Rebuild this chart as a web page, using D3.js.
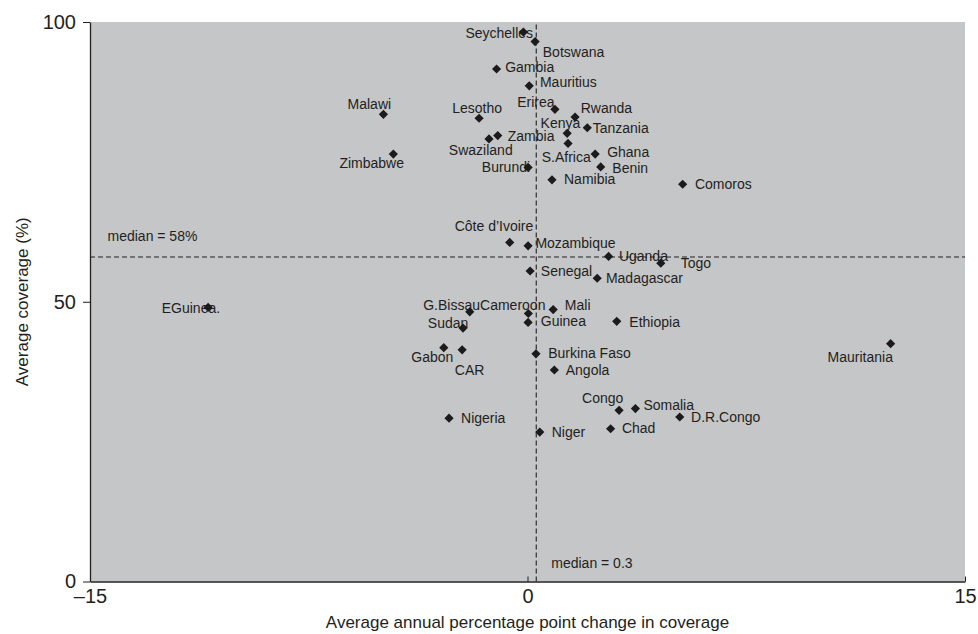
<!DOCTYPE html>
<html>
<head>
<meta charset="utf-8">
<script src="https://cdn.jsdelivr.net/npm/d3@7/dist/d3.min.js"></script>
<style>
  html, body { margin: 0; padding: 0; background: #ffffff; }
  svg { display: block; }
  text { font-family: "Liberation Sans", Arial, Helvetica, sans-serif; fill: #231f20; }
</style>
</head>
<body>
<svg id="chart" width="978" height="634"></svg>
<script>
// Country names, average annual change in coverage (percentage points), average coverage (%)
const countries = [
  "Seychelles", "Botswana", "Gambia", "Mauritius", "Malawi", "Lesotho", "Erirea",
  "Rwanda", "Tanzania", "Kenya", "S.Africa", "Zambia", "Swaziland", "Zimbabwe",
  "Ghana", "Benin", "Burundi", "Namibia", "Comoros", "Côte d’Ivoire", "Mozambique",
  "Uganda", "Togo", "Senegal", "Madagascar", "G.Bissau", "Cameroon", "Mali",
  "Guinea", "Ethiopia", "Sudan", "Gabon", "CAR", "Burkina Faso", "Angola",
  "Congo", "Somalia", "Nigeria", "Chad", "Niger", "D.R.Congo", "Mauritania", "EGuinea."
];
const change = [
  -0.14, 0.26, -1.06, 0.06, -4.94, -1.66, 0.94,
  1.63, 2.05, 1.36, 1.39, -1.02, -1.32, -4.6,
  2.32, 2.51, 0.02, 0.84, 5.32, -0.61, 0.02,
  2.78, 4.57, 0.09, 2.39, -1.98, 0.03, 0.88,
  0.02, 3.06, -2.21, -2.87, -2.24, 0.29, 0.92,
  3.14, 3.70, -2.69, 2.85, 0.42, 5.22, 12.45, -10.95
];
const coverage = [
  98.2, 96.5, 91.6, 88.6, 83.5, 82.8, 84.4,
  83.0, 81.1, 80.1, 78.3, 79.7, 79.1, 76.4,
  76.4, 74.1, 74.0, 71.8, 71.0, 60.6, 60.0,
  58.1, 56.9, 55.5, 54.2, 48.2, 47.9, 48.6,
  46.3, 46.5, 45.3, 41.8, 41.4, 40.7, 37.8,
  30.6, 30.9, 29.2, 27.3, 26.7, 29.4, 42.5, 49.0
];
const medianChange = 0.3;
const medianCoverage = 58;
const xTicks = [-15, 0, 15];
const yTicks = [0, 50, 100];
const xTickLabels = ["\u201315", "0", "15"];
const yTickLabels = ["0", "50", "100"];
const xTitle = "Average annual percentage point change in coverage";
const yTitle = "Average coverage (%)";

// Label placement next to each marker: [dx, dy, anchor]
const labelPlacement = [
  [9.7, 5.7, "end"], [7.7, 15, "start"], [8.6, 2.7, "start"], [10.7, 1, "start"],
  [7.7, -5.3, "end"], [23, -5, "end"], [-37.7, -2, "start"],
  [5.7, -3.7, "start"], [5.4, 5, "start"], [-26.6, -5, "start"], [-26.3, 18.4, "start"],
  [10, 5, "start"], [23.7, 16.3, "end"], [10.7, 14, "end"],
  [12, 3, "start"], [11.6, 6.5, "start"], [2, 4.4, "end"], [12, 4.6, "start"],
  [12.3, 4.3, "start"], [23.6, -11.6, "end"], [7.3, 1.7, "start"],
  [10.3, 5, "start"], [20, 5, "start"], [10.7, 5.3, "start"], [8.7, 4.4, "start"],
  [10.3, -1.7, "end"], [-48.3, -3.3, "start"], [11.7, 0.7, "start"],
  [12.7, 4, "start"], [12.6, 5.4, "start"], [5.3, 0, "end"], [9.6, 14.6, "end"],
  [-7.3, 25.3, "start"], [12.3, 4.3, "start"], [11.4, 5, "start"],
  [4.3, -7, "end"], [8, 1.3, "start"], [12, 5, "start"], [11.3, 4.6, "start"],
  [12, 4.7, "start"], [11.3, 4.7, "start"], [2.3, 18, "end"], [12, 6, "end"]
];

const svg = d3.select("#chart");
const plot = { left: 90, right: 965, top: 22, bottom: 581.5 };

const x = d3.scaleLinear().domain([-15, 15]).range([plot.left, plot.right]);
const y = d3.scaleLinear().domain([0, 100]).range([plot.bottom, plot.top]);

// Plot background
svg.append("rect")
  .attr("x", plot.left).attr("y", plot.top)
  .attr("width", plot.right - plot.left).attr("height", plot.bottom - plot.top)
  .attr("fill", "#c5c6c8");

// Median reference lines
svg.append("line")
  .attr("x1", x(-15)).attr("x2", x(15))
  .attr("y1", y(medianCoverage)).attr("y2", y(medianCoverage))
  .attr("stroke", "#231f20").attr("stroke-width", 1.1).attr("stroke-dasharray", "5,3");
svg.append("line")
  .attr("x1", x(medianChange)).attr("x2", x(medianChange))
  .attr("y1", y(0)).attr("y2", y(100))
  .attr("stroke", "#231f20").attr("stroke-width", 1.1).attr("stroke-dasharray", "5,3");

svg.append("text").attr("x", 107.5).attr("y", 240.5)
  .attr("font-size", 14).text("median = " + medianCoverage + "%");
svg.append("text").attr("x", x(medianChange) + 15).attr("y", 567.5)
  .attr("font-size", 14).text("median = " + medianChange);

// Axes
const xAxis = d3.axisBottom(x).tickValues(xTicks)
  .tickFormat((d, i) => xTickLabels[i]).tickSizeInner(-5).tickSizeOuter(0).tickPadding(10);
const gx = svg.append("g").attr("transform", `translate(0,${plot.bottom})`).call(xAxis);
gx.select(".domain").attr("stroke", "#231f20").attr("stroke-width", 1.3);
gx.selectAll(".tick line").attr("stroke", "#231f20");
gx.selectAll(".tick text").attr("font-size", 20).attr("fill", "#231f20")
  .attr("font-family", "Liberation Sans, Arial, sans-serif").attr("dy", "0.71em")
  .attr("y", 7);

const yAxis = d3.axisLeft(y).tickValues(yTicks)
  .tickFormat((d, i) => yTickLabels[i]).tickSizeInner(7).tickSizeOuter(0).tickPadding(7);
const gy = svg.append("g").attr("transform", `translate(${plot.left},0)`).call(yAxis);
gy.select(".domain").attr("stroke", "#231f20").attr("stroke-width", 1.3);
gy.selectAll(".tick line").attr("stroke", "#231f20");
gy.selectAll(".tick text").attr("font-size", 20).attr("fill", "#231f20")
  .attr("font-family", "Liberation Sans, Arial, sans-serif");

// Axis titles
svg.append("text")
  .attr("x", (plot.left + plot.right) / 2).attr("y", 628)
  .attr("text-anchor", "middle").attr("font-size", 17).text(xTitle);
svg.append("text")
  .attr("transform", `translate(28,${(plot.top + plot.bottom) / 2}) rotate(-90)`)
  .attr("text-anchor", "middle").attr("font-size", 17).text(yTitle);

// Markers and country labels
const points = countries.map((name, i) => ({ name, cx: change[i], cy: coverage[i], lab: labelPlacement[i] }));
const diamond = "M0,-4.6L4.6,0L0,4.6L-4.6,0Z";

const g = svg.append("g");
g.selectAll("text.country").data(points).join("text")
  .attr("class", "country")
  .attr("x", d => x(d.cx) + d.lab[0])
  .attr("y", d => y(d.cy) + d.lab[1])
  .attr("text-anchor", d => d.lab[2])
  .attr("font-size", 14)
  .text(d => d.name);
g.selectAll("path.mark").data(points).join("path")
  .attr("class", "mark")
  .attr("d", diamond)
  .attr("transform", d => `translate(${x(d.cx)},${y(d.cy)})`)
  .attr("fill", "#1c1a1b");
</script>
</body>
</html>
